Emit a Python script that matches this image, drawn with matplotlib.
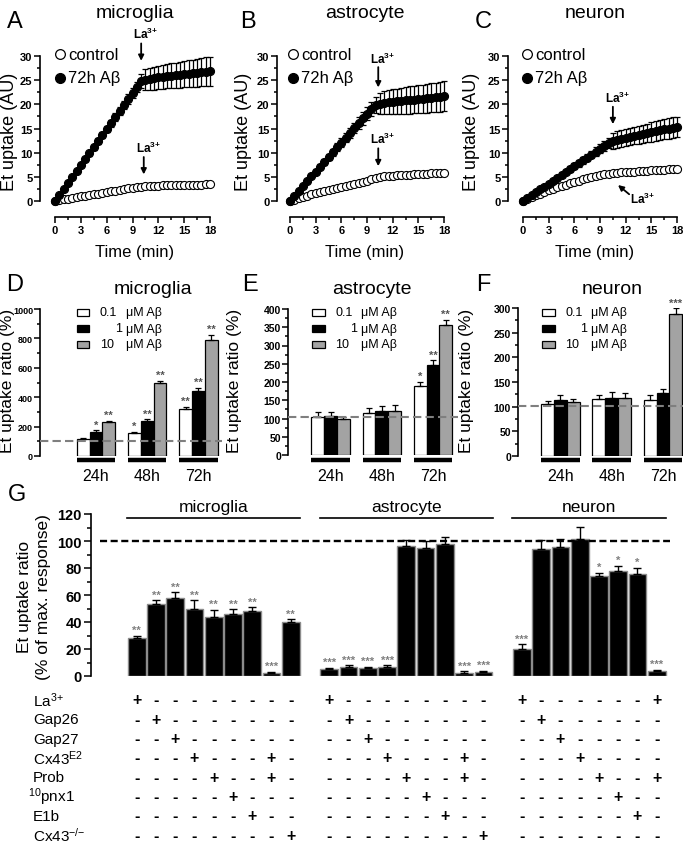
import numpy as np
import matplotlib
matplotlib.use('Agg')
import matplotlib.pyplot as plt
from matplotlib.patches import Rectangle
from matplotlib import transforms
from matplotlib.ticker import FixedLocator

plt.rcParams['font.family'] = ['Liberation Sans', 'DejaVu Sans']
plt.rcParams['mathtext.fontset'] = 'custom'
plt.rcParams['mathtext.rm'] = 'Liberation Sans'
plt.rcParams['mathtext.it'] = 'Liberation Sans:italic'
plt.rcParams['mathtext.bf'] = 'Liberation Sans:bold'

W, H = 683, 845

# ---- A-C: uptake time course (t = 0..18 min, every 0.5 min)
time_min = np.arange(0, 18.5, 0.5)

mic_ctrl = [0, 0.2, 0.35, 0.5, 0.65, 0.8, 0.95, 1.1, 1.25, 1.4, 1.55, 1.7, 1.85, 2.0, 2.15,
            2.3, 2.45, 2.6, 2.75, 2.9, 3.0, 3.1, 3.15, 3.2, 3.2, 3.25, 3.25, 3.3, 3.3, 3.3,
            3.35, 3.35, 3.4, 3.4, 3.4, 3.45, 3.45]
mic_ab = [0, 1.25, 2.5, 3.7, 4.95, 6.2, 7.45, 8.7, 9.9, 11.15, 12.4, 13.65, 14.9, 16.1, 17.35,
          18.6, 19.85, 21.1, 22.3, 23.55, 24.8, 25.1, 25.3, 25.4, 25.6, 25.7, 25.8, 25.9, 26.0,
          26.1, 26.2, 26.3, 26.4, 26.5, 26.6, 26.7, 26.8]
mic_ab_err = [0, 0.1, 0.2, 0.2, 0.3, 0.3, 0.4, 0.4, 0.5, 0.5, 0.6, 0.6, 0.7, 0.7, 0.8, 0.8,
              0.9, 1.0, 1.0, 1.1, 1.5, 2.2, 2.3, 2.4, 2.4, 2.5, 2.5, 2.6, 2.6, 2.7, 2.7, 2.8,
              2.8, 2.9, 2.9, 3.0, 3.0]

ast_ctrl = [0, 0.3, 0.6, 0.85, 1.1, 1.35, 1.6, 1.85, 2.05, 2.25, 2.45, 2.65, 2.85, 3.05, 3.25,
            3.45, 3.7, 3.95, 4.2, 4.5, 4.8, 5.0, 5.1, 5.2, 5.25, 5.3, 5.35, 5.4, 5.45, 5.5,
            5.55, 5.6, 5.65, 5.7, 5.75, 5.8, 5.85]
ast_ab = [0, 1.0, 2.1, 3.1, 4.1, 5.1, 6.1, 7.1, 8.1, 9.1, 10.1, 11.1, 12.1, 13.1, 14.1, 15.1,
          16.1, 17.1, 18.1, 19.0, 19.9, 20.1, 20.3, 20.4, 20.5, 20.6, 20.7, 20.8, 20.9, 21.0,
          21.1, 21.2, 21.3, 21.4, 21.5, 21.6, 21.7]
ast_ab_err = [0, 0.1, 0.2, 0.3, 0.3, 0.4, 0.5, 0.5, 0.6, 0.7, 0.7, 0.8, 0.9, 0.9, 1.0, 1.1,
              1.2, 1.3, 1.4, 1.5, 1.6, 2.2, 2.4, 2.5, 2.6, 2.6, 2.7, 2.7, 2.8, 2.8, 2.9, 2.9,
              3.0, 3.0, 3.0, 3.1, 3.1]

neu_ctrl = [0, 0.4, 0.8, 1.15, 1.5, 1.85, 2.2, 2.5, 2.8, 3.1, 3.4, 3.7, 3.95, 4.2, 4.45, 4.7,
            4.95, 5.15, 5.35, 5.5, 5.65, 5.75, 5.85, 5.9, 6.0, 6.05, 6.1, 6.15, 6.2, 6.3, 6.35,
            6.4, 6.45, 6.5, 6.55, 6.6, 6.7]
neu_ab = [0, 0.6, 1.2, 1.8, 2.4, 3.0, 3.6, 4.2, 4.8, 5.4, 6.0, 6.6, 7.2, 7.8, 8.4, 9.0, 9.6,
          10.2, 10.8, 11.4, 12.0, 12.4, 12.7, 12.9, 13.1, 13.3, 13.5, 13.7, 13.9, 14.1, 14.3,
          14.5, 14.7, 14.9, 15.0, 15.2, 15.3]
neu_ab_err = [0, 0.1, 0.1, 0.2, 0.2, 0.3, 0.3, 0.4, 0.4, 0.5, 0.5, 0.6, 0.6, 0.7, 0.7, 0.8,
              0.8, 0.9, 0.9, 1.0, 1.1, 1.6, 1.7, 1.7, 1.8, 1.8, 1.8, 1.9, 1.9, 1.9, 2.0, 2.0,
              2.0, 2.1, 2.1, 2.1, 2.1]

# ---- D-F: uptake ratio vs Abeta dose and exposure time
time_groups = ['24h', '48h', '72h']
dose_labels = ['0.1', '1', '10']

mic_ratio = [[115, 155, 318], [160, 236, 445], [228, 500, 790]]
mic_ratio_err = [[6, 11, 16], [14, 13, 20], [12, 11, 34]]
mic_sig = [['', '*', '**'], ['*', '**', '**'], ['**', '**', '**']]

ast_ratio = [[105, 114, 190], [108, 120, 247], [99, 121, 355]]
ast_ratio_err = [[12, 14, 11], [11, 13, 13], [6, 16, 16]]
ast_sig = [['', '', '*'], ['', '', '**'], ['', '', '**']]

neu_ratio = [[105, 116, 114], [114, 118, 127], [110, 118, 288]]
neu_ratio_err = [[7, 7, 10], [9, 11, 8], [6, 9, 12]]
neu_sig = [['', '', ''], ['', '', ''], ['', '', '***']]

# ---- G: blockers, % of max response
g_mic = [28, 53, 58, 50, 44, 46, 48, 2, 40]
g_mic_err = [2, 3, 4, 6, 5, 3.5, 3, 1, 2]
g_mic_sig = ['**', '**', '**', '**', '**', '**', '**', '***', '**']
g_ast = [5, 7, 6, 7, 96.5, 95, 97.5, 2.5, 3]
g_ast_err = [1, 1, 1, 1, 4.5, 5, 5.5, 1, 1]
g_ast_sig = ['***', '***', '***', '***', '', '', '', '***', '***']
g_neu = [20, 94, 95.5, 101.5, 74, 78, 75.5, 3.5]
g_neu_err = [3.5, 7, 6, 9, 2.5, 3.5, 4.5, 1]
g_neu_sig = ['***', '', '', '', '*', '*', '*', '***']

sign_rows = ['La$^{3{+}}$', 'Gap26', 'Gap27', r'Cx43$^{\mathrm{E2}}$', 'Prob',
             '$^{10}$pnx1', 'E1b', 'Cx43$^{{-}/{-}}$']
mic_signs = ['+--------', '-+-------', '--+------', '---+---+-', '----+--+-',
             '-----+---', '------+--', '--------+']
ast_signs = ['+--------', '-+-------', '--+------', '---+---+-', '----+--+-',
             '-----+---', '------+--', '--------+']
neu_signs = ['+------+', '-+------', '--+-----', '---+----', '----+--+',
             '-----+--', '------+-', '--------']


fig = plt.figure(figsize=(W / 100, H / 100), dpi=100)


def px_ax(left, top, right, bottom):
    return fig.add_axes([left / W, 1 - bottom / H, (right - left) / W, (bottom - top) / H])


def ftext(x, y, s, **kw):
    kw.setdefault('ha', 'center')
    kw.setdefault('va', 'center')
    return fig.text(x / W, 1 - y / H, s, **kw)


def prism(ax):
    for s in ['top', 'right']:
        ax.spines[s].set_visible(False)
    for s in ['left', 'bottom']:
        ax.spines[s].set_linewidth(1.2)
    ax.tick_params(which='both', direction='out', width=1.1, pad=1.5)
    ax.tick_params(which='major', length=4)
    ax.tick_params(which='minor', length=2.5)


# ---------------- A-C
tc = [
    ('A', 'microglia', mic_ctrl, mic_ab, mic_ab_err, 40, 217, -1.74, 18.8, 15, 135, 10, 60),
    ('B', 'astrocyte', ast_ctrl, ast_ab, ast_ab_err, 277, 451, -1.53, 18.8, 248, 365, 244, 293),
    ('C', 'neuron', neu_ctrl, neu_ab, neu_ab_err, 508, 683, -1.75, 18.69, 483, 595, 472, 527),
]
tc_axes = []
for letter, title, ctrl, ab, err, left, right, x0, x1, lx, tx, ylx, legx in tc:
    ax = px_ax(left, 57, right, 202)
    prism(ax)
    ax.set_xlim(x0, x1)
    ax.set_ylim(0, 30)
    ax.errorbar(time_min, ab, yerr=err, fmt='none', ecolor='k', elinewidth=0.9,
                capsize=2.5, capthick=0.9, zorder=2)
    ax.plot(time_min, ctrl, 'o', ms=5.8, mfc='white', mec='k', mew=0.8, clip_on=False, zorder=3)
    ax.plot(time_min, ab, 'o', ms=5.8, mfc='k', mec='k', mew=0.8, clip_on=False, zorder=4)
    ax.spines['bottom'].set_position(('outward', 11.5))
    ax.spines['bottom'].set_bounds(0, 18)
    ax.spines['left'].set_bounds(0, 30)
    ax.set_xticks(range(0, 19, 3), labels=[str(v) for v in range(0, 19, 3)],
                  fontweight='bold', fontsize=8)
    ax.xaxis.set_minor_locator(FixedLocator(np.arange(1.5, 18, 3)))
    ax.set_yticks(range(0, 31, 5), labels=[str(v) for v in range(0, 31, 5)],
                  fontweight='bold', fontsize=8)
    ax.yaxis.set_minor_locator(FixedLocator(np.arange(2.5, 30, 5)))
    ftext(lx, 22, letter, fontsize=17)
    ftext(tx, 14, title, fontsize=14)
    ftext(ylx, 132, 'Et uptake (AU)', fontsize=13, rotation=90)
    ftext(tx, 252, 'Time (min)', fontsize=12)
    # legend
    ax.plot([legx / W], [1 - 55 / H], 'o', ms=7, mfc='white', mec='k', mew=0.9,
            transform=fig.transFigure, clip_on=False)
    ax.plot([legx / W], [1 - 79 / H], 'o', ms=7, mfc='k', mec='k',
            transform=fig.transFigure, clip_on=False)
    ftext(legx + 8, 55, 'control', fontsize=12, ha='left')
    ftext(legx + 8, 79, '72h A\u03b2', fontsize=12, ha='left')
    tc_axes.append(ax)

arrow_kw = dict(arrowstyle='-|>', color='k', lw=1.3, mutation_scale=8,
                shrinkA=0, shrinkB=0)
la_txt = r'$\mathbf{La^{3{+}}}$'
# A
ax = tc_axes[0]
ax.annotate('', xy=(10, 29.0), xytext=(10, 32.6), arrowprops=arrow_kw, annotation_clip=False)
ax.text(10.5, 34.6, la_txt, ha='center', va='center', fontsize=8.5, clip_on=False)
ax.annotate('', xy=(10.3, 5.5), xytext=(10.3, 9.1), arrowprops=arrow_kw, annotation_clip=False)
ax.text(10.8, 11.0, la_txt, ha='center', va='center', fontsize=8.5)
# B
ax = tc_axes[1]
ax.annotate('', xy=(10.3, 23.5), xytext=(10.3, 27.7), arrowprops=arrow_kw, annotation_clip=False)
ax.text(10.8, 29.6, la_txt, ha='center', va='center', fontsize=8.5)
ax.annotate('', xy=(10.3, 7.2), xytext=(10.3, 10.9), arrowprops=arrow_kw, annotation_clip=False)
ax.text(10.8, 12.9, la_txt, ha='center', va='center', fontsize=8.5)
# C
ax = tc_axes[2]
ax.annotate('', xy=(10.5, 15.9), xytext=(10.5, 19.5), arrowprops=arrow_kw, annotation_clip=False)
ax.text(11.0, 21.4, la_txt, ha='center', va='center', fontsize=8.5)
ax.annotate('', xy=(11.1, 3.3), xytext=(12.4, 1.4), arrowprops=arrow_kw, annotation_clip=False)
ax.text(13.9, 0.6, la_txt, ha='center', va='center', fontsize=8.5)

# ---------------- D-F
bar_colors = ['white', 'black', '#a3a3a3']
dr = [
    ('D', 'microglia', mic_ratio, mic_ratio_err, mic_sig, 40, 222, -4.375, 9.84, 310, 457,
     1000, 200, 100, 100, 15, 153, 8, 77, 6.5),
    ('E', 'astrocyte', ast_ratio, ast_ratio_err, ast_sig, 288, 458, -3.32, 9.96, 310, 456,
     400, 50, 25, 103, 250, 372, 235, 312, 7.5),
    ('F', 'neuron', neu_ratio, neu_ratio_err, neu_sig, 518, 683, -3.32, 9.57, 309, 457,
     300, 50, 25, 101, 483, 612, 466, 542, 7.5),
]
for (letter, title, vals, errs, sigs, left, right, x0, x1, top, bottom, ymax, step, mstep,
     base, lx, tx, ylx, legx, tfs) in dr:
    ax = px_ax(left, top, right, bottom)
    prism(ax)
    ax.spines['bottom'].set_visible(False)
    ax.tick_params(which='both', pad=1)
    ax.set_xlim(x0, x1)
    ax.set_ylim(0, ymax)
    ax.set_xticks([])
    centers = np.arange(len(time_groups)) * 4
    for k in range(3):
        xs = centers + (k - 1)
        ax.bar(xs, vals[k], width=1, color=bar_colors[k], edgecolor='k', lw=0.9, zorder=2)
        ax.errorbar(xs, vals[k], yerr=[np.zeros(3), errs[k]], fmt='none', ecolor='k',
                    elinewidth=0.9, capsize=2.5, capthick=0.9, zorder=3)
        for i in range(3):
            if sigs[k][i]:
                ax.text(xs[i], vals[k][i] + errs[k][i] + ymax * 0.004, sigs[k][i],
                        ha='center', va='bottom', fontsize=8, color='#555555',
                        fontweight='bold')
    ax.axhline(base, color='#7f7f7f', lw=1.5, ls=(0, (4, 2)), zorder=5)
    ax.spines['left'].set_bounds(0, ymax)
    ticks = list(range(0, ymax + 1, step))
    ax.set_yticks(ticks, labels=[str(v) for v in ticks], fontweight='bold', fontsize=tfs)
    ax.yaxis.set_minor_locator(FixedLocator(np.arange(mstep, ymax, step)))
    trans = transforms.blended_transform_factory(ax.transData, fig.transFigure)
    for i, c in enumerate(centers):
        ax.plot([c - 1.5, c + 1.5], [1 - 461 / H] * 2, color='k', lw=3.2,
                transform=trans, clip_on=False, solid_capstyle='butt')
        ax.text(c, 1 - 477 / H, time_groups[i], transform=trans, ha='center', va='center',
                fontsize=11.5)
    ftext(lx, 285, letter, fontsize=17)
    ftext(tx, 290, title, fontsize=14)
    ftext(ylx, 381, 'Et uptake ratio (%)', fontsize=12.5, rotation=90)
    for k, yy in enumerate([313, 329.5, 345]):
        fig.add_artist(Rectangle((legx / W, 1 - (yy + 3.5) / H), 12.5 / W, 7 / H,
                                 transform=fig.transFigure, facecolor=bar_colors[k],
                                 edgecolor='k', lw=0.9))
        nx = legx + 38 if dose_labels[k] == '1' else legx + 23
        ftext(nx, yy, dose_labels[k], fontsize=9, ha='left')
        ftext(legx + 49, yy, '\u03bcM A\u03b2', fontsize=9, ha='left')

# ---------------- G
axg = px_ax(91, 515, 676, 677)
prism(axg)
axg.spines['bottom'].set_visible(False)
axg.set_xlim(-2.37, 28)
axg.set_ylim(0, 120)
axg.set_xticks([])
axg.spines['left'].set_bounds(0, 120)
axg.set_yticks(range(0, 121, 20), labels=[str(v) for v in range(0, 121, 20)],
               fontweight='bold', fontsize=10.5)
axg.yaxis.set_minor_locator(FixedLocator(np.arange(10, 120, 20)))
axg.tick_params(which='major', length=5)
axg.tick_params(which='minor', length=3)

g_groups = [('microglia', g_mic, g_mic_err, g_mic_sig, mic_signs, 0),
            ('astrocyte', g_ast, g_ast_err, g_ast_sig, ast_signs, 10),
            ('neuron', g_neu, g_neu_err, g_neu_sig, neu_signs, 20)]
gtrans = transforms.blended_transform_factory(axg.transData, fig.transFigure)
row_y = [701 + i * 19.3 for i in range(len(sign_rows))]
for name, vals, errs, sigs, signs, start in g_groups:
    xs = start + np.arange(len(vals))
    axg.bar(xs, vals, width=0.92, color='black', edgecolor='#8c8c8c', lw=1.0, zorder=2)
    axg.errorbar(xs, vals, yerr=[np.zeros(len(vals)), errs], fmt='none', ecolor='k',
                 elinewidth=1.0, capsize=3, capthick=1.0, zorder=3)
    for x, v, e, s in zip(xs, vals, errs, sigs):
        if s:
            axg.text(x, v + e + 0.5, s, ha='center', va='bottom', fontsize=8,
                     color='#808080', fontweight='bold')
    axg.plot([xs[0] - 0.5, xs[-1] + 0.5], [117, 117], color='k', lw=1.2, clip_on=False)
    axg.text((xs[0] + xs[-1]) / 2, 125.5, name, ha='center', va='center', fontsize=12.5)
    for r, row in enumerate(signs):
        for x, ch in zip(xs, row):
            axg.text(x, 1 - row_y[r] / H, ch, transform=gtrans, ha='center', va='center',
                     fontsize=11.5, fontweight='bold')
axg.plot([-1.9, 27.7], [100, 100], color='k', lw=1.7, dashes=(3, 1.5), zorder=4)

for r, lab in enumerate(sign_rows):
    ftext(33 if not lab.startswith('$') else 28, row_y[r], lab, fontsize=11, ha='left')

ftext(17, 495, 'G', fontsize=17)
ftext(25, 597, 'Et uptake ratio', fontsize=12.5, rotation=90)
ftext(44, 597, '(% of max. response)', fontsize=12.5, rotation=90)

fig.savefig('out.png', dpi=100)
